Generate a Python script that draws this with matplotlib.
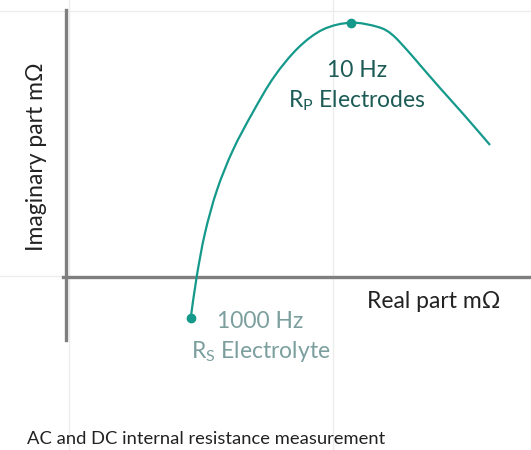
'''
Nyquist style impedance sketch (AC and DC internal resistance)
'''

# Imports
import numpy as np
import matplotlib
matplotlib.use('Agg')
import matplotlib.pyplot as plt
from matplotlib.path import Path
from matplotlib.patches import PathPatch

plt.rcParams['font.family'] = ['Lato', 'DejaVu Sans']
plt.rcParams['mathtext.fontset'] = 'custom'
plt.rcParams['mathtext.rm'] = 'Lato'

# Main Vars
# curve (arbitrary mOhm units, origin at axis cross)
REAL = [124.7, 130.7, 139, 151, 167, 187, 208, 232, 257, 285,
        312, 326, 341, 354, 374, 399, 424]
IMAG = [-41.3, 0.3, 44, 87, 127, 165, 200, 229, 247.5, 254.3,
        250, 242.5, 227, 212, 189, 161, 132]
MARKED = [0, 9]   # 1000 Hz and 10 Hz points

GRID_X = [3, 267]
GRID_Y = [1, 266]

TEAL = '#14998a'
DARK_TEAL = '#1c5b56'
GREY_TEAL = '#7c9f9e'
AXIS_GREY = '#7f7f7f'


# Util Functions
def SmoothPath(xs, ys):
    # catmull-rom through the points, handed to matplotlib as cubic beziers
    P = np.column_stack([xs, ys]).astype(float)
    P = np.vstack([P[0], P, P[-1]])
    verts = [P[1]]
    codes = [Path.MOVETO]
    for i in range(1, len(P) - 2):
        c1 = P[i] + (P[i + 1] - P[i - 1]) / 6
        c2 = P[i + 1] - (P[i + 2] - P[i]) / 6
        verts += [c1, c2, P[i + 1]]
        codes += [Path.CURVE4] * 3
    return Path(verts, codes)


# Plot
fig = plt.figure(figsize=(5.31, 4.5), dpi=100)
ax = fig.add_axes([0, 0, 1, 1])
ax.set_xlim(-66, 465)
ax.set_ylim(-173, 277)

for g in GRID_X:
    ax.axvline(g, color='#ececec', lw=1.0, zorder=0)
for g in GRID_Y:
    ax.axhline(g, color='#ececec', lw=1.0, zorder=0)

for side in ['top', 'right']:
    ax.spines[side].set_visible(False)
ax.spines['left'].set_position(('data', 0))
ax.spines['bottom'].set_position(('data', 0))
ax.spines['left'].set_bounds(-63, 267)
ax.spines['bottom'].set_bounds(-3, 465)
for side in ['left', 'bottom']:
    ax.spines[side].set_color(AXIS_GREY)
    ax.spines[side].set_linewidth(2.4)
ax.set_xticks([])
ax.set_yticks([])
ax.patch.set_alpha(0)

ax.add_patch(PathPatch(SmoothPath(REAL, IMAG), facecolor='none',
                       edgecolor=TEAL, lw=1.6, zorder=3))
ax.plot([REAL[i] for i in MARKED], [IMAG[i] for i in MARKED], 'o',
        color=TEAL, ms=6, zorder=4)

# Labels
ax.text(291, 200, '10 Hz', ha='center', va='baseline', fontsize=16.5, color=DARK_TEAL)
ax.text(291, 170, r'R$_\mathrm{P}$ Electrodes', ha='center', va='baseline',
        fontsize=16.5, color=DARK_TEAL)
ax.text(194, -51, '1000 Hz', ha='center', va='baseline', fontsize=16.5, color=GREY_TEAL)
ax.text(195, -81, r'R$_\mathrm{S}$ Electrolyte', ha='center', va='baseline',
        fontsize=16.5, color=GREY_TEAL)
ax.text(368, -31, 'Real part m\u03a9', ha='center', va='baseline',
        fontsize=16.5, color='#222222')
ax.text(-29, 120, 'Imaginary part m\u03a9', ha='center', va='center', rotation=90,
        fontsize=16.5, color='#222222')

fig.text(27 / 531, 1 - 444 / 450, 'AC and DC internal resistance measurement',
         ha='left', va='baseline', fontsize=13.2, color='#222222')

fig.savefig('out.png', dpi=100)
